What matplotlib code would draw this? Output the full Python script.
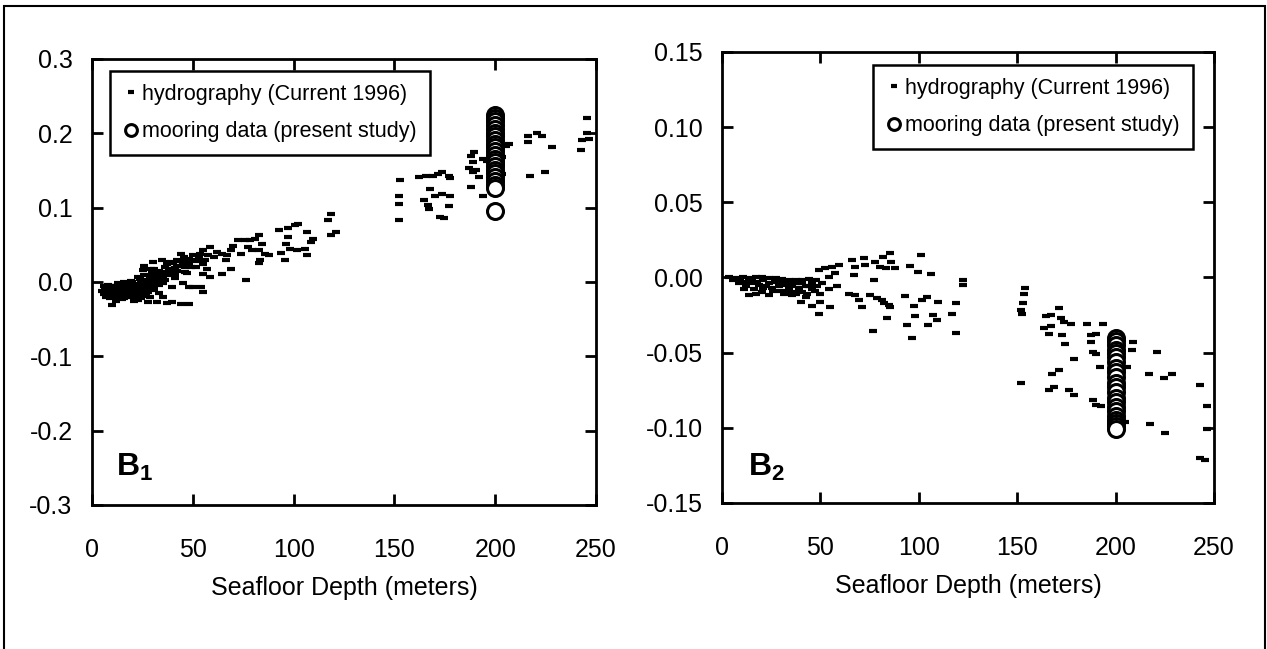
import numpy as np
import matplotlib.pyplot as plt
from matplotlib.patches import Rectangle
from matplotlib.lines import Line2D

plt.rcParams['font.family'] = ['Liberation Sans', 'DejaVu Sans']
plt.rcParams['mathtext.fontset'] = 'custom'
plt.rcParams['mathtext.rm'] = 'Liberation Sans'
plt.rcParams['mathtext.bf'] = 'Liberation Sans:bold'

# --- panel B1: hydrography (depth, value) ---
hyd1 = [
    (245.5, 0.221), (245.5, 0.200), (243, 0.191), (246.5, 0.192), (242.5, 0.178),
    (216.4, 0.197), (216.4, 0.189), (220.7, 0.200), (223, 0.197), (228.4, 0.181),
    (217.2, 0.143), (224.6, 0.148),
    (188, 0.170), (188.8, 0.161), (187.2, 0.154), (188.8, 0.148), (188, 0.128), (194, 0.116),
    (192.2, 0.141), (194, 0.166), (195.7, 0.163), (205.3, 0.183), (207, 0.186), (203.6, 0.145),
    (203.6, 0.168), (202.8, 0.177), (202.8, 0.159), (190.5, 0.150), (189.7, 0.175),
    (152.6, 0.137), (152.1, 0.116), (152.1, 0.105), (152.1, 0.083), (162.3, 0.141), (165.7, 0.142),
    (169.2, 0.143), (171.8, 0.145), (177, 0.143), (177.8, 0.140), (173.5, 0.148), (167.9, 0.125),
    (173.5, 0.119), (177.8, 0.116), (164.9, 0.110), (166.6, 0.103), (167.4, 0.098), (177, 0.102),
    (172.7, 0.087), (174.4, 0.086), (170, 0.116),
    (118.6, 0.092), (116.9, 0.083), (121.2, 0.067), (118.6, 0.063), (102.3, 0.078), (100.7, 0.076),
    (97.3, 0.072), (92.9, 0.070), (106.9, 0.067), (109.5, 0.058), (108.7, 0.054), (97.3, 0.060),
    (96.4, 0.051), (98.1, 0.045), (101.5, 0.043), (105.8, 0.045), (106.7, 0.036), (95.5, 0.030),
    (93.7, 0.039),
    (82.6, 0.063), (80.9, 0.058), (78.4, 0.056), (75.7, 0.056), (72.3, 0.056), (69.7, 0.049),
    (68.9, 0.043), (74, 0.038), (77.4, 0.047), (79.2, 0.043), (82.6, 0.043), (84.3, 0.051),
    (86, 0.038), (87.7, 0.036), (82.6, 0.025), (83.4, 0.030), (67.2, 0.036), (66.3, 0.029),
    (64.6, 0.038), (62, 0.040), (58.6, 0.047), (55.1, 0.043), (53.4, 0.038), (57.7, 0.036),
    (60.3, 0.034), (68.9, 0.018), (64.6, 0.011), (76.6, 0.003), (58.6, 0.007), (55.1, 0.011),
    (50, 0.029), (51.7, 0.020),
    (44, 0.038), (45.7, 0.034), (48.3, 0.031), (50, 0.036), (42.3, 0.022), (39.7, 0.018),
    (38, 0.027), (34.6, 0.029), (30.3, 0.027), (26, 0.022), (25.1, 0.016), (29.4, 0.018),
    (32.8, 0.011), (35.4, 0.007), (38, 0.009), (41.4, 0.005), (44.9, -0.002), (48.3, -0.007),
    (39.7, -0.007), (35.4, -0.002), (50, -0.007), (54.3, -0.007), (55.1, -0.013), (28.6, 0.007),
    (26, 0.009), (22.6, 0.007), (19.2, 0.002), (15.7, 0.000), (13.1, -0.002), (10.5, -0.005),
    (8.8, -0.007), (6.3, -0.009), (7.1, -0.013), (11.4, -0.016), (14.8, -0.013), (17.4, -0.011),
    (20, -0.007), (22.6, -0.005), (26, -0.002), (29.4, -0.011), (9.7, -0.020), (14, -0.022),
    (21, -0.025), (24.4, -0.022), (27.8, -0.027), (32.1, -0.027), (37.2, -0.028), (39.7, -0.027),
    (44, -0.029), (48.3, -0.030), (9.7, -0.031), (24.4, 0.002), (16.6, -0.007), (8, -0.018),
    (12.3, -0.011), (32.8, 0.000), (30.3, -0.007), (26.9, -0.013), (21.8, -0.018), (17.4, -0.020),
    (8, -0.010), (9, -0.015), (10, -0.005), (11, -0.012), (12, -0.018), (13, -0.008), (14, -0.003),
    (15, -0.010), (16, -0.015), (17, -0.005), (18, -0.012), (19, -0.020), (20, 0.000), (21, -0.010),
    (22, -0.003), (23, -0.015), (24, 0.004), (25, -0.008), (27, 0.003), (28, -0.005), (30, 0.012),
    (31, 0.002), (33, 0.015), (34, 0.005), (36, 0.020), (37, 0.012), (40, 0.025), (42, 0.015),
    (44, 0.028), (46, 0.020), (48, 0.025), (5, -0.012), (6, -0.005), (7, -0.020), (12, -0.025),
    (16, -0.022), (20, -0.018), (23, -0.024), (26, -0.016), (29, -0.020), (33, -0.015), (35, -0.020),
    (11, -0.008), (13, -0.014), (15, -0.004), (18, -0.008), (19, -0.002), (21, -0.014), (25, 0.001),
    (27, -0.009), (29, 0.008), (31, 0.018), (35, 0.014), (38, 0.017), (41, 0.010), (43, 0.021),
    (47, 0.012), (52, 0.028), (55, 0.024), (57, 0.018),
    (6, -0.016), (7, -0.008), (8, -0.004), (9, -0.021), (10, -0.012), (11, -0.019), (12, -0.006),
    (13, -0.021), (14, -0.017), (15, -0.023), (16, -0.009), (17, -0.017), (18, -0.003), (19, -0.014),
    (20, -0.011), (21, -0.004), (22, -0.020), (22, -0.012), (23, -0.006), (24, -0.010),
    (25, -0.014), (26, -0.006), (27, -0.019), (28, 0.000), (28, -0.013), (30, -0.003),
    (31, -0.010), (32, 0.005), (33, -0.004), (34, 0.010), (36, 0.003), (37, 0.024), (39, 0.012),
    (41, 0.019), (42, 0.030), (45, 0.025), (46, 0.014), (49, 0.020), (53, 0.033), (56, 0.030),
]
moor1_y = [0.225, 0.221, 0.216, 0.211, 0.206, 0.201, 0.196, 0.191, 0.186, 0.181, 0.176,
           0.171, 0.166, 0.161, 0.156, 0.151, 0.146, 0.141, 0.136, 0.131, 0.127, 0.095]
moor1_x = [200] * len(moor1_y)

# --- panel B2 ---
hyd2 = [
    (3.6, 0.0004), (7, -0.0007), (10.4, 0.0), (13.8, -0.0007), (17.1, 0.0004), (20.5, 0.0004),
    (23.9, -0.0007), (27.3, -0.0007), (30.6, -0.0013), (34, -0.0018), (37.4, -0.0018),
    (40.7, -0.0018), (44.1, -0.0009), (8.7, -0.004), (12.1, -0.006), (15.5, -0.004), (18.9, -0.005),
    (22.2, -0.006), (25.6, -0.0073), (29, -0.006), (32.3, -0.005), (35.7, -0.006), (39, -0.0073),
    (13.8, -0.0118), (17.1, -0.0107), (20.5, -0.0096), (23.9, -0.0118), (31.4, -0.0107),
    (35.7, -0.0118), (40.7, -0.004), (44.1, -0.006), (45.8, -0.004), (47.5, -0.0018), (50.8, -0.004),
    (40.7, -0.0096), (42.4, -0.006),
    (5.5, -0.002), (9, -0.001), (12, -0.003), (15, -0.002), (18, -0.003), (21, -0.002),
    (24, -0.004), (27, -0.003), (30, -0.004), (33, -0.003), (36, -0.004), (39, -0.004),
    (11, -0.008), (16, -0.008), (21, -0.007), (26, -0.009), (30, -0.009), (34, -0.008),
    (38, -0.010), (43, -0.011), (47, -0.009),
    (49.2, 0.005), (52.5, 0.006), (55.9, 0.007), (59.3, 0.008), (57.6, 0.003), (54.2, 0.0),
    (48.3, -0.006), (45.8, -0.008), (50, -0.011), (54.2, -0.008), (58.4, -0.006), (45.8, -0.019),
    (50, -0.016), (49.2, -0.024), (55, -0.0195), (39.9, -0.016), (42.4, -0.013), (37.4, -0.011),
    (34, -0.0096),
    (66, 0.0116), (67.7, 0.007), (66.9, 0.0016), (71.9, 0.0127), (72.8, 0.008), (77.6, 0.0104),
    (81.9, 0.0138), (85.2, 0.016), (86, 0.0104), (87.7, 0.006), (83.5, 0.006), (80.1, 0.007),
    (101.3, 0.015), (95.4, 0.0076), (99.6, 0.0038), (106.4, 0.002), (122.5, -0.0018),
    (122.5, -0.005),
    (64.3, -0.0107), (67.7, -0.0118), (69.4, -0.015), (71.1, -0.0196), (75.3, -0.0118),
    (78.7, -0.014), (81.2, -0.015), (82.1, -0.0173), (84.6, -0.0184), (85.4, -0.0196), (77, -0.0018),
    (83.8, -0.0273), (93.1, -0.0124), (93.9, -0.0318), (97.3, -0.019), (98, -0.0258),
    (101.4, -0.0147), (103.9, -0.0129), (104.8, -0.0318), (107.3, -0.025), (109.9, -0.0162),
    (109, -0.0284), (116.6, -0.0244), (119.1, -0.0169), (119.1, -0.0369), (76.7, -0.0356),
    (96.4, -0.040),
    (152, -0.0218), (152.8, -0.0173), (153.4, -0.0111), (154, -0.0073), (152.2, -0.024),
    (152, -0.0702), (164.4, -0.0258), (166.9, -0.025), (171.1, -0.020), (172, -0.0273),
    (173.7, -0.0296), (177.1, -0.0307), (163.8, -0.0333), (166.9, -0.0324), (166, -0.0373),
    (172.8, -0.0384), (174.4, -0.044), (178.6, -0.054), (185.4, -0.0311), (193.8, -0.0311),
    (167.8, -0.0644), (171.1, -0.0613), (166, -0.0751), (168.6, -0.0729), (176.2, -0.0747),
    (178.6, -0.0784),
    (187.6, -0.0384), (190.1, -0.0373), (187.6, -0.0429), (188.4, -0.0496), (190.1, -0.0507),
    (191.8, -0.0596), (188.4, -0.0818), (190.1, -0.0851), (192.6, -0.0858), (209, -0.0429),
    (208.2, -0.0484), (205.7, -0.0596), (204.8, -0.0962), (221, -0.0496), (216.8, -0.064),
    (224.4, -0.0667), (228.6, -0.064), (217.6, -0.0973), (225.2, -0.1036), (243, -0.0718),
    (246.4, -0.0858), (243, -0.120), (245.5, -0.1213), (246.4, -0.1007),
]
moor2_y = [-0.040, -0.042, -0.045, -0.048, -0.050, -0.053, -0.056, -0.060, -0.063, -0.066,
           -0.070, -0.073, -0.076, -0.080, -0.083, -0.086, -0.089, -0.092, -0.095, -0.097,
           -0.099, -0.101]
moor2_x = [200] * len(moor2_y)

depth_ticks = [0, 50, 100, 150, 200, 250]
y1_ticks = [-0.3, -0.2, -0.1, 0.0, 0.1, 0.2, 0.3]
y2_ticks = [-0.15, -0.10, -0.05, 0.00, 0.05, 0.10, 0.15]
labels = ['hydrography (Current 1996)', 'mooring data (present study)']


def draw(ax, hyd, mx, my, yticks, fmt, tag, leg_loc, leg_anchor, tag_xy):
    h = np.array(hyd)
    ax.plot(h[:, 0], h[:, 1], ls='none', marker='_', ms=5.5, mew=3, color='black', zorder=2)
    ax.plot(mx, my, ls='none', marker='o', ms=11.5, mfc='white', mec='black', mew=2.2, zorder=3)
    ax.set_xlim(0, 250)
    ax.set_ylim(yticks[0], yticks[-1])
    ax.set_xticks(depth_ticks)
    ax.set_yticks(yticks)
    ax.set_yticklabels([fmt % v for v in yticks])
    ax.tick_params(direction='in', length=8, width=2, top=True, right=True, labelsize=18)
    ax.tick_params(axis='x', pad=24)
    ax.tick_params(axis='y', pad=14)
    for s in ax.spines.values():
        s.set_linewidth(2)
    ax.set_xlabel('Seafloor Depth (meters)', fontsize=18, labelpad=10)
    handles = [
        Line2D([], [], ls='none', marker='_', ms=4, mew=3, color='black'),
        Line2D([], [], ls='none', marker='o', ms=8.5, mfc='white', mec='black', mew=2.2),
    ]
    leg = ax.legend(handles, labels, loc=leg_loc, bbox_to_anchor=leg_anchor, borderaxespad=0,
                    fontsize=15.5, fancybox=False, edgecolor='black', framealpha=1,
                    handlelength=0.7, handletextpad=0.2, borderpad=0.6, labelspacing=0.75)
    leg.get_frame().set_linewidth(1.8)
    ax.text(tag_xy[0], tag_xy[1], tag, transform=ax.transAxes, fontsize=23,
            ha='center', va='center')


fig = plt.figure(figsize=(12.67, 6.49), dpi=100)
ax1 = fig.add_axes([0.0726, 0.2219, 0.3978, 0.6872])
ax2 = fig.add_axes([0.5699, 0.225, 0.3883, 0.695])

draw(ax1, hyd1, moor1_x, moor1_y, y1_ticks, '%.1f', r'$\mathbf{B}_\mathbf{1}$',
     'upper left', (0.036, 0.973), (0.085, 0.085))
draw(ax2, hyd2, moor2_x, moor2_y, y2_ticks, '%.2f', r'$\mathbf{B}_\mathbf{2}$',
     'upper right', (0.957, 0.971), (0.09, 0.08))

# outer frame
fig.add_artist(Rectangle((4 / 1267, -0.05), 1261 / 1267, 1.05 - 6 / 649,
                         transform=fig.transFigure, fill=False, lw=1.5, ec='black'))

fig.savefig('out.png', dpi=100)
